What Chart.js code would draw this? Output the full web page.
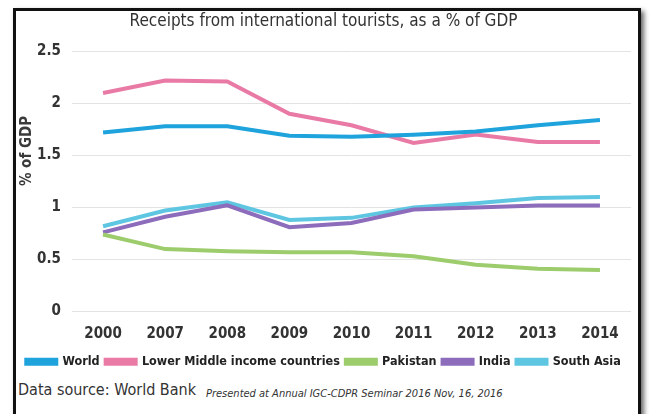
<!DOCTYPE html>
<html>
<head>
<meta charset="utf-8">
<script src="https://cdn.jsdelivr.net/npm/chart.js@4/dist/chart.umd.min.js"></script>
<style>
  body{ margin:0; background:#fff; width:650px; height:414px; overflow:hidden; position:relative; }
  #frame{ position:absolute; left:13px; top:8px; width:622px; height:420px; border:3px solid #111;
          box-shadow:3px 3px 5px rgba(0,0,0,.6); }
  #wrap{ position:absolute; left:16px; top:11px; width:624px; height:367px; }
  #source{ position:absolute; left:18px; top:380px; font:16px "DejaVu Sans Condensed",Roboto,sans-serif; color:#333; }
  #note{ position:absolute; left:206px; top:387px; font:italic 11px "DejaVu Sans Condensed",Roboto,sans-serif; color:#333; }
</style>
</head>
<body>
<div id="frame"></div>
<div id="wrap"><canvas id="tourismChart"></canvas></div>
<div id="source">Data source: World Bank</div>
<div id="note">Presented at Annual IGC-CDPR Seminar 2016 Nov, 16, 2016</div>
<script>
/* ===========================
   DATA
=========================== */
const years = ["2000","2007","2008","2009","2010","2011","2012","2013","2014"];

const world      = [1.72, 1.78, 1.78, 1.69, 1.68, 1.70, 1.73, 1.79, 1.84];
const lowerMid   = [2.10, 2.22, 2.21, 1.90, 1.79, 1.62, 1.70, 1.63, 1.63];
const pakistan   = [0.74, 0.60, 0.58, 0.57, 0.57, 0.53, 0.45, 0.41, 0.40];
const india      = [0.76, 0.91, 1.02, 0.81, 0.85, 0.98, 1.00, 1.02, 1.02];
const southAsia  = [0.82, 0.97, 1.05, 0.88, 0.90, 1.00, 1.04, 1.09, 1.10];

const yTicks = [0, 0.5, 1, 1.5, 2, 2.5];

const FONT = "'DejaVu Sans Condensed', Roboto, sans-serif";

function line(label, data, color){
    return {
        label: label,
        data: data,
        borderColor: color,
        backgroundColor: color,
        borderWidth: 4,
        pointRadius: 0,
        tension: 0
    };
}

/* ===========================
   Y AXIS TITLE
=========================== */
const yTitle = {
    id: "yTitle",
    afterDraw(chart){
        const ctx = chart.ctx;
        ctx.save();
        ctx.translate(11, 140);
        ctx.rotate(-Math.PI / 2);
        ctx.font = "bold 15px " + FONT;
        ctx.fillStyle = "#3a3a3a";
        ctx.textAlign = "center";
        ctx.textBaseline = "middle";
        ctx.fillText("% of GDP", 0, 0);
        ctx.restore();
    }
};

/* ===========================
   LINE CHART
=========================== */
new Chart(document.getElementById("tourismChart"), {
    type: "line",
    data: {
        labels: years,
        datasets: [
            line("World", world, "#1fa3dc"),
            line("Lower Middle income countries", lowerMid, "#e97aa6"),
            line("Pakistan", pakistan, "#9ccc6c"),
            line("India", india, "#8c6cbb"),
            line("South Asia", southAsia, "#5fc6e2")
        ]
    },
    options: {
        responsive: true,
        maintainAspectRatio: false,
        animation: false,
        layout: { padding: { left: 0, right: 9, top: 0, bottom: 0 } },
        plugins: {
            title: {
                display: true,
                text: "Receipts from international tourists, as a % of GDP",
                color: "#333",
                font: { family: FONT, size: 17, weight: "normal" },
                padding: { top: 0, bottom: 20 }
            },
            legend: {
                position: "bottom",
                labels: {
                    color: "#222",
                    boxWidth: 30,
                    boxHeight: 4,
                    padding: 6,
                    font: { family: FONT, size: 12.5, weight: "bold" }
                }
            },
            tooltip: { enabled: false }
        },
        scales: {
            x: {
                offset: true,
                grid: { display: false },
                border: { display: false },
                ticks: {
                    color: "#333",
                    padding: 6,
                    font: { family: FONT, size: 15, weight: "bold" }
                }
            },
            y: {
                min: 0,
                max: 2.5,
                afterFit(scale){ scale.width = 56; },
                afterBuildTicks(scale){ scale.ticks = yTicks.map(v => ({ value: v })); },
                grid: { color: "#e3e3e3", drawTicks: false },
                border: { display: false },
                ticks: {
                    color: "#333",
                    padding: 11,
                    font: { family: FONT, size: 15, weight: "bold" },
                    callback: v => String(v)
                }
            }
        }
    },
    plugins: [yTitle]
});
</script>
</body>
</html>
